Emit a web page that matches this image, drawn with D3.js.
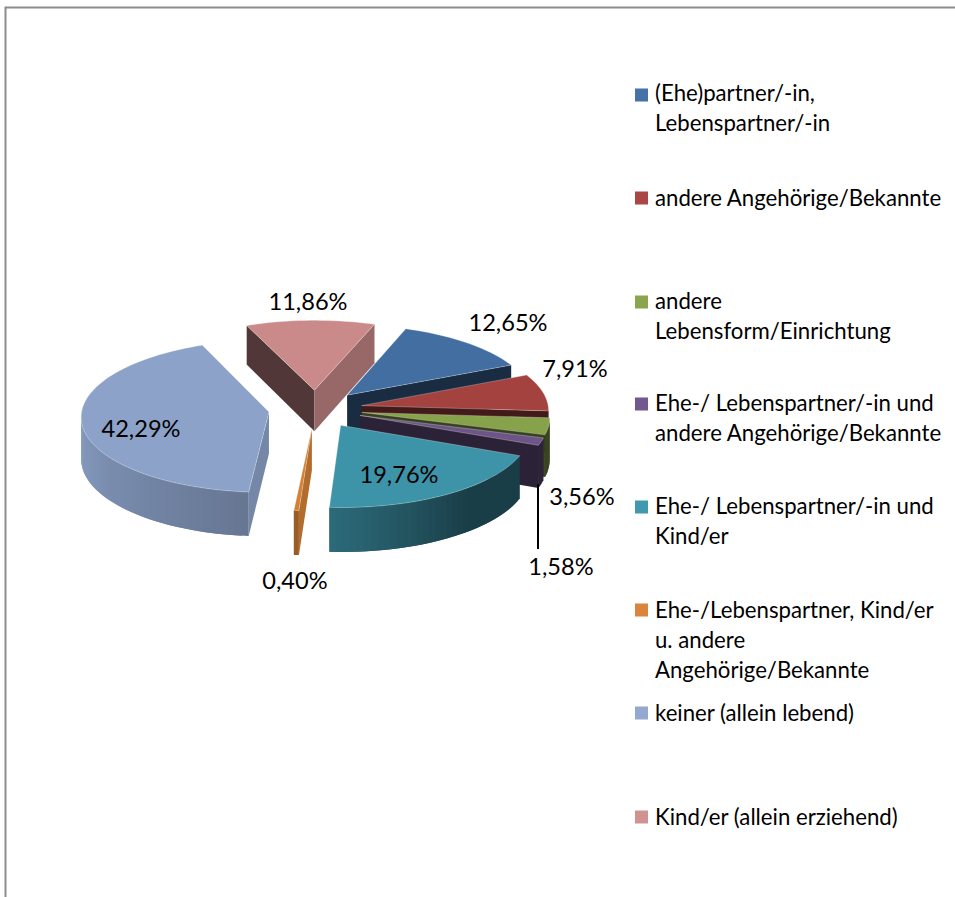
<!DOCTYPE html>
<html><head><meta charset="utf-8">
<style>html,body{margin:0;padding:0;background:#fff;overflow:hidden}svg{display:block}text{font-family:Lato,"Open Sans",sans-serif;fill:#000}</style>
<script src="https://cdn.jsdelivr.net/npm/d3@7"></script></head><body>
<script>
const categories = [
  "(Ehe)partner/-in,|Lebenspartner/-in",
  "andere Angehörige/Bekannte",
  "andere|Lebensform/Einrichtung",
  "Ehe-/ Lebenspartner/-in und|andere Angehörige/Bekannte",
  "Ehe-/ Lebenspartner/-in und|Kind/er",
  "Ehe-/Lebenspartner, Kind/er|u. andere|Angehörige/Bekannte",
  "keiner (allein lebend)",
  "Kind/er (allein erziehend)"
];
const values = [12.65, 7.91, 3.56, 1.58, 19.76, 0.40, 42.29, 11.86];
const topColors = ["#426ea2","#a4423f","#86a24b","#6d5589","#3d93a8","#d48036","#8ca2c9","#cb8a8a"];
const legendColors = ["#4573a7","#aa4744","#89a54e","#71588f","#4198af","#db843d","#93a9cf","#d19392"];
const legendY = [95,198,302,404,507,610,713,817];
const legendLineY = [92.5,197.5,300.5,402.5,505.5,609.5,712.5,816.5];
const labelPos = [[508,322],[575,368],[582,496],[561,566],[399,474],[295,580],[141,428],[308,301]];

const W=955,H=897, cx=315.5, cy=409, R=187, E=47, tilt=0.405, D=3400, depth=41.5, startDeg=20;
const fontSize=22.2, labelFontSize=23.6;

const svg=d3.select("body").append("svg").attr("width",W).attr("height",H);
svg.append("path").attr("d",`M955,7.5H5.5V897`).attr("fill","none").attr("stroke","#8c8c8c").attr("stroke-width",2);

const rad=d=>d*Math.PI/180;
const pie=d3.pie().sort(null).startAngle(rad(startDeg)).endAngle(rad(startDeg+360));
const arcs=pie(values);
const px=(X,Y)=>{const s=1/(1-Y/D);return cx+X*s;};
const py=(Y,h)=>{const s=1/(1-Y/D);return cy+(tilt*Y+h)*s;};
const wallShade=d3.scaleLinear().domain([111,140,182,270]).range([.42,.42,.72,.97]).clamp(true);
const cutShade=d3.scaleLinear().domain([90,110,154,250]).range([.86,.75,.4,.4]).clamp(true);
const line=d3.line().curve(d3.curveLinearClosed);
const mul=(c,f)=>{const o=d3.rgb(c);return d3.rgb(o.r*f,o.g*f,o.b*f).formatHex();};

const slices=arcs.map((a,i)=>{
  const mid=(a.startAngle+a.endAngle)/2;
  const ox=E*Math.sin(mid), oy=-E*Math.cos(mid);
  return {i,a,ox,oy};
}).sort((p,q)=>p.oy-q.oy);

slices.forEach(({i,a,ox,oy})=>{
  const g=svg.append("g"), col=topColors[i];
  const P=(ang,r)=>[ox+r*Math.sin(ang),oy-r*Math.cos(ang)];
  const top=p=>[px(p[0],p[1]),py(p[1],0)], bot=p=>[px(p[0],p[1]),py(p[1],depth)];
  const n=Math.max(2,Math.ceil((a.endAngle-a.startAngle)/rad(2)));
  const angs=d3.range(n+1).map(k=>a.startAngle+(a.endAngle-a.startAngle)*k/n);
  const apex=P(0,0);
  const face=(p,q,fill)=>{
    const poly=[top(p),top(q),bot(q),bot(p)];
    if(d3.polygonArea(poly)>0) g.append("path").attr("d",line(poly)).attr("fill",fill);
  };
  const deg=x=>((x*180/Math.PI)%360+360)%360;
  face(apex,P(a.startAngle,R),mul(col,cutShade(deg(a.startAngle-Math.PI/2))));
  face(P(a.endAngle,R),apex,mul(col,cutShade(deg(a.endAngle+Math.PI/2))));
  // wall strips overlap the following strip so no seam shows between them
  d3.pairs(angs).forEach(([u,v],k)=>{
    const next=angs[Math.min(k+2,n)];
    face(P(u,R),P(next,R),mul(col,wallShade(deg((u+v)/2))));
  });
  const outline=[top(apex),...angs.map(t=>top(P(t,R)))];
  g.append("path").attr("d",line(outline)).attr("fill",col).attr("stroke","#fff").attr("stroke-opacity",.35).attr("stroke-width",.8);
});

// leader line for the small slice
svg.append("line").attr("x1",538).attr("x2",538).attr("y1",484).attr("y2",549).attr("stroke","#000").attr("stroke-width",2);

const fmt=v=>v.toFixed(2).replace(".",",")+"%";
svg.append("g").selectAll("text").data(values).join("text")
  .attr("x",(d,i)=>labelPos[i][0]).attr("y",(d,i)=>labelPos[i][1])
  .attr("text-anchor","middle").attr("dominant-baseline","central")
  .attr("font-size",labelFontSize).text(fmt);

const lg=svg.append("g");
categories.forEach((c,i)=>{
  lg.append("rect").attr("x",635).attr("y",legendY[i]-6.5).attr("width",13).attr("height",13).attr("fill",legendColors[i]);
  c.split("|").forEach((t,k)=>{
    lg.append("text").attr("x",655).attr("y",legendLineY[i]+k*30).attr("dominant-baseline","central").attr("font-size",fontSize).text(t);
  });
});
</script></body></html>
